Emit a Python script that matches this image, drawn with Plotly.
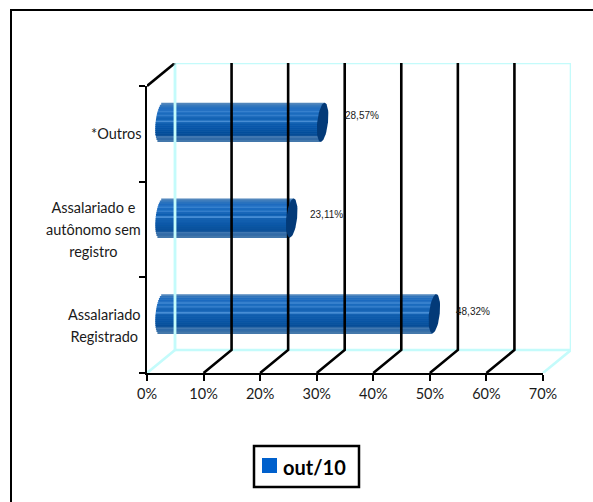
import math
import plotly.graph_objects as go

# Chart data, bottom category first
categories = ["Assalariado\nRegistrado", "Assalariado e\nautônomo sem\nregistro", "*Outros"]
values = [48.32, 23.11, 28.57]
value_labels = ["48,32%", "23,11%", "28,57%"]
x_ticks = [0, 10, 20, 30, 40, 50, 60, 70]
x_tick_labels = ["0%", "10%", "20%", "30%", "40%", "50%", "60%", "70%"]
series_name = "out/10"

# Figure geometry, in pixels
W, H = 593, 502
FRONT_L, FRONT_R, FRONT_T, FRONT_B = 147, 543, 86, 373
DEPTH_X, DEPTH_Y = 28, 23
CYL_H, CAP_A, CYL_TILT = 39, 5.4, 2.0

px_per_x = (FRONT_R - FRONT_L) / x_ticks[-1]
px_per_y = (FRONT_B - FRONT_T) / len(categories)
depth_x = DEPTH_X / px_per_x
depth_y = DEPTH_Y / px_per_y

# Cylinder shading from the top edge to the bottom edge
band_colors = [
    "#4a82ba", "#2f74bb", "#1f6cbd", "#1b6ac0", "#2e7bcb", "#1265bb", "#2b78c8", "#0f60b4",
    "#0c5eb2", "#3f88d2", "#0a5bae", "#0858ab", "#0655a8", "#0452a4", "#03509f", "#024d9b",
    "#054c96", "#3a72ad", "#2a66a4", "#3c72a8",
]
CYL_OPACITY = 0.96
CAP_COLOR = "#033a78"
GRID_COLOR = "#000000"
WALL_COLOR = "#c4fbfb"
WALL_OVER_BAR = "rgba(196,251,251,0.55)"
TEXT_COLOR = "#1a1a1a"
TICK_FONT = "Lato, 'Open Sans', sans-serif"
LABEL_FONT = "'Liberation Sans', Arial, sans-serif"

fig = go.Figure()

# Back wall outline and the floor edges running back from the front plane
y_top = len(categories) + depth_y
wall_x = [depth_x, x_ticks[-1] + depth_x, x_ticks[-1] + depth_x, None,
          depth_x, depth_x, x_ticks[-1] + depth_x, None,
          0, depth_x, None, x_ticks[-1], x_ticks[-1] + depth_x]
wall_y = [y_top, y_top, depth_y, None,
          y_top, depth_y, depth_y, None,
          0, depth_y, None, 0, depth_y]
fig.add_trace(go.Scatter(x=wall_x, y=wall_y, xaxis="x2", yaxis="y2", mode="lines",
                         line=dict(color=WALL_COLOR, width=2.6), hoverinfo="skip", showlegend=False))

# Gridlines on the back wall with their floor diagonals
grid_x, grid_y = [], []
for t in x_ticks[1:-1]:
    grid_x += [t, t + depth_x, t + depth_x, None]
    grid_y += [0, depth_y, y_top, None]
grid_x += [0, depth_x, None]
grid_y += [len(categories), y_top, None]
fig.add_trace(go.Scatter(x=grid_x, y=grid_y, xaxis="x2", yaxis="y2", mode="lines",
                         line=dict(color=GRID_COLOR, width=2.6), hoverinfo="skip", showlegend=False))

# Cylinders: each shading band is a bar whose ends follow the round caps
n_bands = len(band_colors)
band_h = CYL_H / n_bands / px_per_y
for k, color in enumerate(band_colors):
    u = ((k + 0.5) / n_bands) * 2 - 1
    cap = CAP_A * math.sqrt(max(0.0, 1 - u * u)) / px_per_x
    tilt = -u * CYL_TILT / px_per_x
    left = depth_x / 2 - cap + tilt
    centers = [i + 0.5 + depth_y / 2 - u * CYL_H / 2 / px_per_y for i in range(len(values))]
    fig.add_trace(go.Bar(
        orientation="h",
        y=centers,
        x=[v + depth_x / 2 + tilt - left for v in values],
        base=[left] * len(values),
        width=band_h,
        xaxis="x2", yaxis="y2",
        marker=dict(color=color, line=dict(width=0)),
        opacity=CYL_OPACITY,
        hoverinfo="skip",
        showlegend=False,
    ))

# Dark end cap at each bar's value
for i, v in enumerate(values):
    cx, cy, n = [], [], 48
    for j in range(n + 1):
        t = 2 * math.pi * j / n
        s = math.sin(t)
        cx.append(v + depth_x / 2 + (CAP_A * math.cos(t) + CYL_TILT * s) / px_per_x)
        cy.append(i + 0.5 + depth_y / 2 + s * (CYL_H / 2) / px_per_y)
    fig.add_trace(go.Scatter(x=cx, y=cy, xaxis="x2", yaxis="y2", mode="lines", fill="toself",
                             fillcolor=CAP_COLOR, line=dict(width=0, color=CAP_COLOR),
                             hoverinfo="skip", showlegend=False))

# The wall's left edge shows through the cylinders
fig.add_trace(go.Scatter(x=[depth_x, depth_x], y=[depth_y, y_top], xaxis="x2", yaxis="y2", mode="lines",
                         line=dict(color=WALL_OVER_BAR, width=2.6), hoverinfo="skip", showlegend=False))

# Front-plane axes need a trace of their own to be drawn
fig.add_trace(go.Scatter(x=[None], y=[None], xaxis="x", yaxis="y", mode="markers",
                         hoverinfo="skip", showlegend=False))

# Value labels beside the bars
label_offsets = [(33.5, 13.5), (30, 15), (34, 18)]
annotations = []
for i, (txt, v) in enumerate(zip(value_labels, values)):
    dx, dy = label_offsets[i]
    annotations.append(dict(text=txt, x=v, y=i + 0.5, xref="x", yref="y", xanchor="left", yanchor="middle",
                            xshift=dx, yshift=dy, showarrow=False,
                            font=dict(family=LABEL_FONT, size=10, color=TEXT_COLOR)))

# Category labels, centred line by line against the axis
for i, cat in enumerate(categories):
    lines = "<br>".join(f'<span style="font-size:14.5px">{s}</span>' for s in cat.split("\n"))
    annotations.append(dict(text=lines, x=(FRONT_L - 4) / W, y=i + 0.5, xref="paper", yref="y",
                            xanchor="right", yanchor="middle", align="center", showarrow=False,
                            font=dict(family=TICK_FONT, size=17, color=TEXT_COLOR)))

# Legend key: boxed swatch and series name
annotations.append(dict(text=series_name, x=281 / W, y=1 - 466.5 / H, xref="paper", yref="paper",
                        xanchor="left", yanchor="middle", showarrow=False,
                        font=dict(family=TICK_FONT, size=20, color="#000000", weight="bold")))

# Outer frame (top and left rules only) and the legend box
shapes = [
    dict(type="line", xref="paper", yref="paper", x0=11 / W, x1=1, y0=1 - 10 / H, y1=1 - 10 / H,
         line=dict(color="#000000", width=2)),
    dict(type="line", xref="paper", yref="paper", x0=11 / W, x1=11 / W, y0=0, y1=1 - 9 / H,
         line=dict(color="#000000", width=2)),
    dict(type="rect", xref="paper", yref="paper", x0=254 / W, x1=359 / W, y0=1 - 487 / H, y1=1 - 446 / H,
         line=dict(color="#000000", width=2.5), fillcolor="#ffffff"),
    dict(type="rect", xref="paper", yref="paper", x0=262 / W, x1=277 / W, y0=1 - 473 / H, y1=1 - 458 / H,
         line=dict(width=0), fillcolor="#0060cc"),
]

fig.update_layout(
    width=W, height=H, autosize=False,
    margin=dict(l=0, r=0, t=0, b=0, autoexpand=False),
    paper_bgcolor="#ffffff", plot_bgcolor="rgba(0,0,0,0)",
    barmode="overlay", showlegend=False,
    annotations=annotations, shapes=shapes,
    xaxis=dict(
        domain=[FRONT_L / W, FRONT_R / W], range=[x_ticks[0], x_ticks[-1]],
        tickmode="array", tickvals=x_ticks, ticktext=x_tick_labels,
        ticks="outside", ticklen=6, tickwidth=2.4, tickcolor="#000000",
        showline=True, linecolor="#000000", linewidth=2.4, showgrid=False, zeroline=False,
        tickfont=dict(family=TICK_FONT, size=14.5, color=TEXT_COLOR),
    ),
    yaxis=dict(
        domain=[1 - FRONT_B / H, 1 - FRONT_T / H], range=[0, len(categories)],
        tickmode="array", tickvals=list(range(len(categories) + 1)), ticktext=[""] * (len(categories) + 1),
        ticks="outside", ticklen=6, tickwidth=2.4, tickcolor="#000000",
        showline=True, linecolor="#000000", linewidth=2.4, showgrid=False, zeroline=False,
    ),
    # The depth box spans the front plane plus the receding offset
    xaxis2=dict(
        domain=[FRONT_L / W, (FRONT_R + DEPTH_X) / W], range=[0, x_ticks[-1] + depth_x],
        anchor="y2", visible=False,
    ),
    yaxis2=dict(
        domain=[1 - FRONT_B / H, 1 - (FRONT_T - DEPTH_Y) / H], range=[0, len(categories) + depth_y],
        anchor="x2", visible=False,
    ),
)

fig.write_html("out.html")
